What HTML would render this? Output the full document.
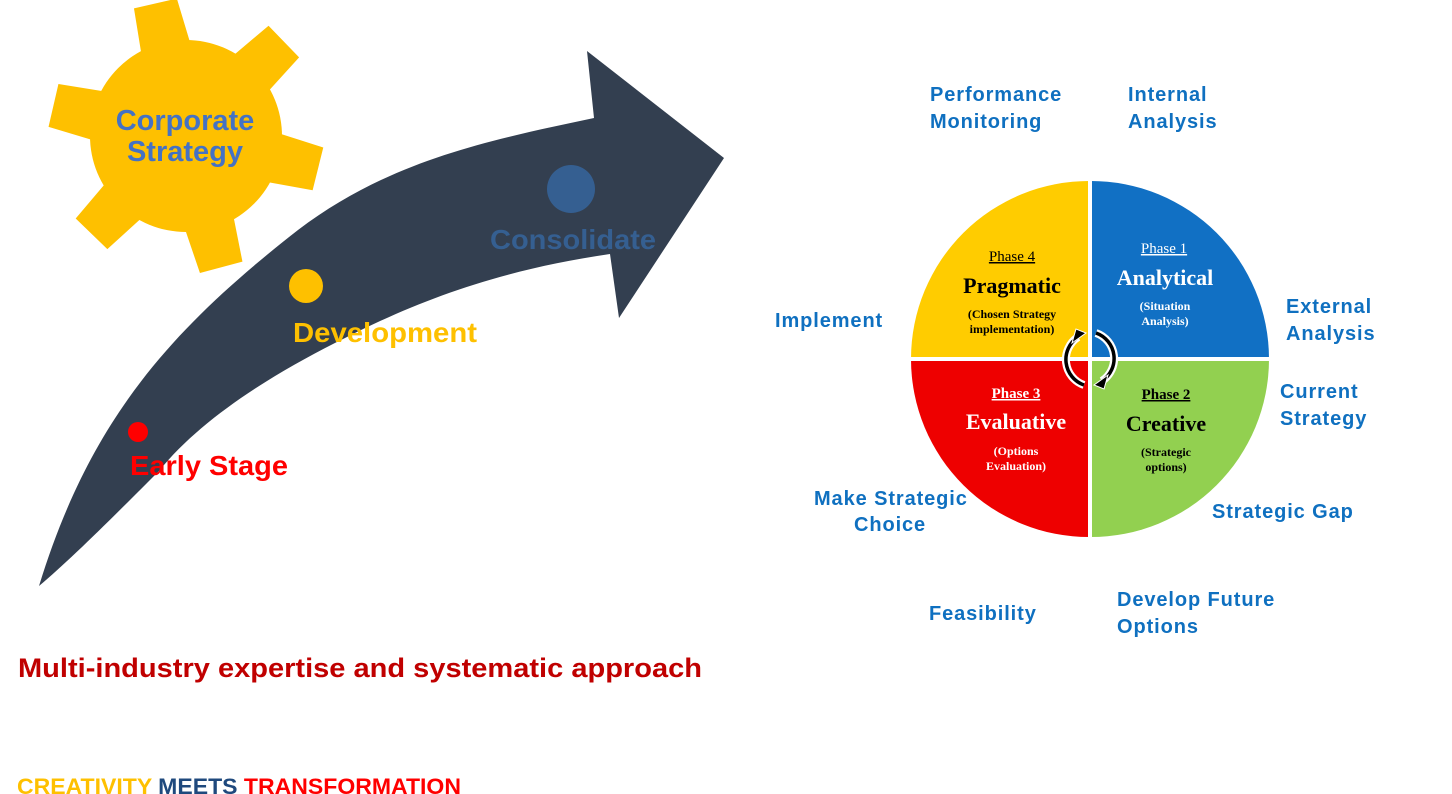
<!DOCTYPE html>
<html><head><meta charset="utf-8"><style>
html,body{margin:0;padding:0;background:#fff;width:1452px;height:794px;overflow:hidden}
svg{display:block}
.b{font-family:"Liberation Sans",Arial,sans-serif;font-weight:bold}
.s{font-family:"Liberation Serif",serif;font-weight:bold}
.l{fill:#0f70c0;font-size:20px;letter-spacing:0.9px}
</style></head><body>
<svg width="1452" height="794" viewBox="0 0 1452 794" xmlns="http://www.w3.org/2000/svg">
<!-- gear -->
<g fill="#fec000" transform="translate(186,136)">
<circle r="96"/>
<g transform="rotate(-103)"><polygon points="60,-27 136,-22 136,22 60,27"/></g>
<g transform="rotate(-44)"><polygon points="60,-27 136,-22 136,22 60,27"/></g>
<g transform="rotate(14)"><polygon points="60,-27 136,-22 136,22 60,27"/></g>
<g transform="rotate(75)"><polygon points="60,-27 136,-22 136,22 60,27"/></g>
<g transform="rotate(134)"><polygon points="60,-27 136,-22 136,22 60,27"/></g>
<g transform="rotate(193)"><polygon points="60,-27 136,-22 136,22 60,27"/></g>
</g>
<text class="b" x="185" y="130" font-size="29" fill="#4472c4" text-anchor="middle">Corporate</text>
<text class="b" x="185" y="161" font-size="29" fill="#4472c4" text-anchor="middle">Strategy</text>
<!-- arrow -->
<path fill="#333f50" d="M39,586 C90,420 170,330 298,230 C390,160 490,140 594,118 L587,51 L724,158 L619,318 L610,254 C500,270 420,300 345,338 C270,375 200,420 159,471 C110,520 70,560 39,586 Z"/>
<ellipse cx="571" cy="189" rx="24" ry="24" fill="#355f91"/>
<circle cx="306" cy="286" r="17" fill="#fec000"/>
<circle cx="138" cy="432" r="10" fill="#ff0000"/>
<text class="b" x="490" y="249" font-size="28" fill="#355f91" textLength="166" lengthAdjust="spacingAndGlyphs">Consolidate</text>
<text class="b" x="293" y="342" font-size="28" fill="#fec000" textLength="184" lengthAdjust="spacingAndGlyphs">Development</text>
<text class="b" x="130" y="475" font-size="28" fill="#ff0000" textLength="158" lengthAdjust="spacingAndGlyphs">Early Stage</text>
<text class="b" x="18" y="677" font-size="27" fill="#c00000" textLength="684" lengthAdjust="spacingAndGlyphs">Multi-industry expertise and systematic approach</text>
<text class="b" x="17" y="794" font-size="22" textLength="444" lengthAdjust="spacingAndGlyphs"><tspan fill="#fec000">CREATIVITY </tspan><tspan fill="#1f497d">MEETS </tspan><tspan fill="#ff0000">TRANSFORMATION</tspan></text>
<!-- circle -->
<g transform="translate(1090,359)">
<path d="M0,0 L0,-178 A178,178 0 0 1 179,0 Z" fill="#1170c4"/>
<path d="M0,0 L179,0 A178,178 0 0 1 0,178 Z" fill="#92d050"/>
<path d="M0,0 L0,178 A178,178 0 0 1 -179,0 Z" fill="#ee0000"/>
<path d="M0,0 L-179,0 A178,178 0 0 1 0,-178 Z" fill="#ffcc00"/>
<line x1="0" y1="-180" x2="0" y2="180" stroke="#fff" stroke-width="4"/>
<line x1="-180" y1="0" x2="180" y2="0" stroke="#fff" stroke-width="4"/>
<g fill="none" stroke="#fff" stroke-width="8">
<path d="M-6,26 A27,27 0 0 1 -12,-22"/><path d="M6,-26 A27,27 0 0 1 12,22"/>
</g>
<g fill="none" stroke="#000" stroke-width="3.5">
<path d="M-6,26 A27,27 0 0 1 -12,-22"/><path d="M6,-26 A27,27 0 0 1 12,22"/>
</g>
<polygon points="-18,-16 -4,-26 -14,-30" fill="#000" stroke="#fff" stroke-width="1"/>
<polygon points="18,16 4,26 14,30" fill="#000" stroke="#fff" stroke-width="1"/>
</g>
<g class="s" text-anchor="middle">
<text x="1164" y="253" font-size="15" fill="#fff" text-decoration="underline" style="font-weight:normal">Phase 1</text>
<text x="1165" y="285" font-size="22" fill="#fff">Analytical</text>
<text x="1165" y="310" font-size="12" fill="#fff">(Situation</text>
<text x="1165" y="325" font-size="12" fill="#fff">Analysis)</text>
<text x="1012" y="261" font-size="15" fill="#000" text-decoration="underline" style="font-weight:normal">Phase 4</text>
<text x="1012" y="293" font-size="22" fill="#000">Pragmatic</text>
<text x="1012" y="318" font-size="12" fill="#000">(Chosen Strategy</text>
<text x="1012" y="333" font-size="12" fill="#000">implementation)</text>
<text x="1016" y="398" font-size="15" fill="#fff" text-decoration="underline">Phase 3</text>
<text x="1016" y="429" font-size="22" fill="#fff">Evaluative</text>
<text x="1016" y="455" font-size="12" fill="#fff">(Options</text>
<text x="1016" y="470" font-size="12" fill="#fff">Evaluation)</text>
<text x="1166" y="399" font-size="15" fill="#000" text-decoration="underline">Phase 2</text>
<text x="1166" y="431" font-size="22" fill="#000">Creative</text>
<text x="1166" y="456" font-size="12" fill="#000">(Strategic</text>
<text x="1166" y="471" font-size="12" fill="#000">options)</text>
</g>
<!-- labels -->
<g class="b l">
<text x="930" y="101">Performance</text><text x="930" y="128">Monitoring</text>
<text x="1128" y="101">Internal</text><text x="1128" y="128">Analysis</text>
<text x="1286" y="313">External</text><text x="1286" y="340">Analysis</text>
<text x="1280" y="398">Current</text><text x="1280" y="425">Strategy</text>
<text x="1212" y="518">Strategic Gap</text>
<text x="1117" y="606">Develop Future</text><text x="1117" y="633">Options</text>
<text x="929" y="620">Feasibility</text>
<text x="814" y="505">Make Strategic</text><text x="854" y="531">Choice</text>
<text x="775" y="327">Implement</text>
</g>
</svg>
</body></html>
